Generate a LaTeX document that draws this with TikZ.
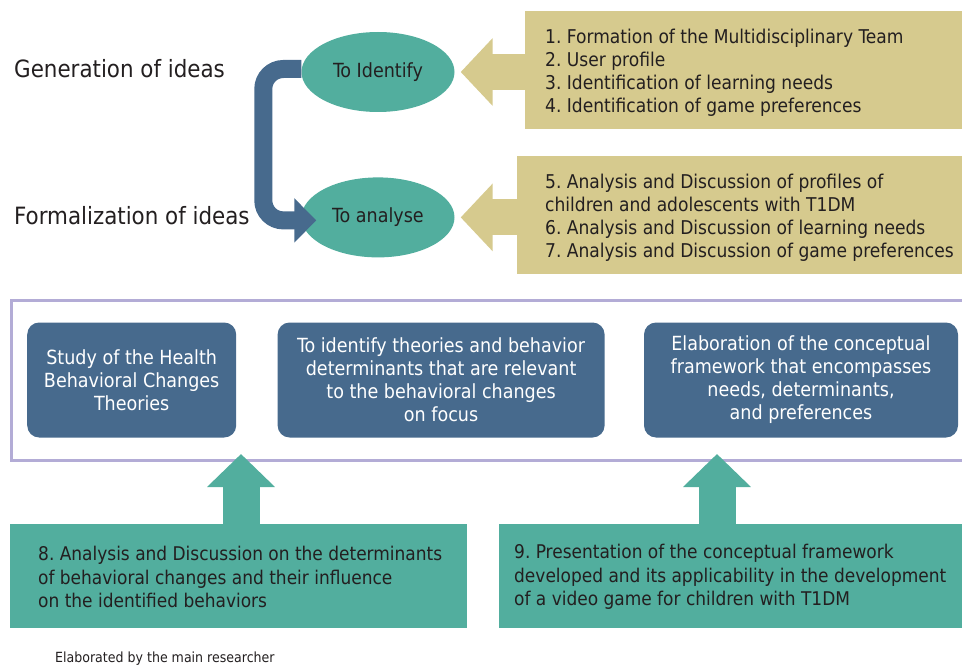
\documentclass[tikz,border=0pt]{standalone}
\usepackage{fontspec}
\setmainfont{DejaVu Sans Condensed}
\usetikzlibrary{arrows.meta,calc,positioning,shapes.geometric}
\definecolor{tealc}{HTML}{52AE9E}
\definecolor{bluec}{HTML}{476A8D}
\definecolor{tanc}{HTML}{D6CA8E}
\definecolor{framec}{HTML}{B3ACD6}
\definecolor{txtgray}{HTML}{231F20}
\frenchspacing
\tikzset{
  oval/.style={ellipse,fill=tealc,minimum width=153pt,minimum height=80pt,inner sep=0pt,
    font=\fontsize{19.5}{22}\selectfont},
  phase/.style={anchor=west,inner sep=0pt,font=\fontsize{23.8}{26}\selectfont},
  listbox/.style={fill=tanc,anchor=west,inner sep=0pt},
  listtext/.style={anchor=west,align=left,inner sep=0pt,yshift=-3pt,font=\fontsize{19}{23}\selectfont},
  stepbox/.style={fill=bluec,rounded corners=12pt,minimum height=115pt,align=center,
    text=white,inner sep=0pt,font=\fontsize{19.5}{23}\selectfont},
  notebox/.style={fill=tealc,anchor=west,minimum height=104pt,inner sep=0pt},
  notetext/.style={anchor=west,align=left,inner sep=0pt,yshift=-1pt,font=\fontsize{18.9}{23.5}\selectfont},
  flowarrow/.style={draw=bluec,line width=18pt,rounded corners=20pt,
    -{Triangle[length=22pt,width=43pt]}},
  tanarrow/.style={draw=tanc,line width=36pt,-{Triangle[length=32pt,width=66pt]}},
  uparrow/.style={draw=tealc,line width=37pt,-{Triangle[length=33pt,width=66pt]}}
}
\begin{document}
\begin{tikzpicture}[x=1pt,y=-1pt,every node/.append style={text=txtgray}]
\useasboundingbox (0,0) rectangle (962,666);

% phase labels
\node [phase] (gen) at (14,69) {Generation of ideas};
\node [phase] (form) at (14,216) {Formalization of ideas};

% the two stages
\node [oval] (ident) at (378,72) {To Identify};
\node [oval,below=65pt of ident] (analyse) {To analyse};

% lists of tasks
\node [listbox,minimum width=437pt,minimum height=118pt] (tanA) at (525,70) {};
\node [listtext,right=20pt of tanA.west] (tanAtext)
  {1. Formation of the Multidisciplinary Team\\
   2. User profile\\
   3. Identification of learning needs\\
   4. Identification of game preferences};
\node [listbox,minimum width=445pt,minimum height=117pt] (tanB) at (517,215) {};
\node [listtext,right=28pt of tanB.west] (tanBtext)
  {5. Analysis and Discussion of profiles of\\
   children and adolescents with T1DM\\
   6. Analysis and Discussion of learning needs\\
   7. Analysis and Discussion of game preferences};

\draw [tanarrow] ($(tanA.west |- ident)+(3,0)$) -- ($(ident.east)+(6,0)$);
\draw [tanarrow] ($(tanB.west |- analyse)+(3,0)$) -- ($(analyse.east)+(6,0)$);

% flow between stages
\coordinate (flowend) at ($(analyse.west)+(15,3)$);
\draw [flowarrow] ($(ident.west)+(0,-3)$) -- ++(-38,0) |- (flowend);

% framework frame
\node [draw=framec,line width=2.5pt,minimum width=954pt,minimum height=160pt,anchor=north west,inner sep=0pt]
  (frame) at (10,299) {};
\node [stepbox,minimum width=209pt,anchor=west] (study) at (27,380)
  {Study of the Health\\Behavioral Changes\\Theories};
\node [stepbox,minimum width=327pt,right=41pt of study] (theory)
  {To identify theories and behavior\\determinants that are relevant\\to the behavioral changes\\on focus};
\node [stepbox,minimum width=314pt,right=39pt of theory] (concept)
  {Elaboration of the conceptual\\framework that encompasses\\needs, determinants,\\and preferences};

% discussions
\node [notebox,minimum width=457pt] (tealA) at (10,576) {};
\node [notetext,right=28pt of tealA.west] (tealAtext)
  {8. Analysis and Discussion on the determinants\\
   of behavioral changes and their influence\\
   on the identified behaviors};
\node [notebox,minimum width=463pt] (tealB) at (499,576) {};
\node [notetext,right=15pt of tealB.west] (tealBtext)
  {9. Presentation of the conceptual framework\\
   developed and its applicability in the development\\
   of a video game for children with T1DM};

\coordinate (upA) at (241,454);
\coordinate (upB) at (717,454);
\draw [uparrow] (tealA.north -| upA) -- (upA);
\draw [uparrow] (tealB.north -| upB) -- (upB);

\node [anchor=west,inner sep=0pt,font=\fontsize{14}{16}\selectfont] (source) at (55,659)
  {Elaborated by the main researcher};
\end{tikzpicture}
\end{document}
